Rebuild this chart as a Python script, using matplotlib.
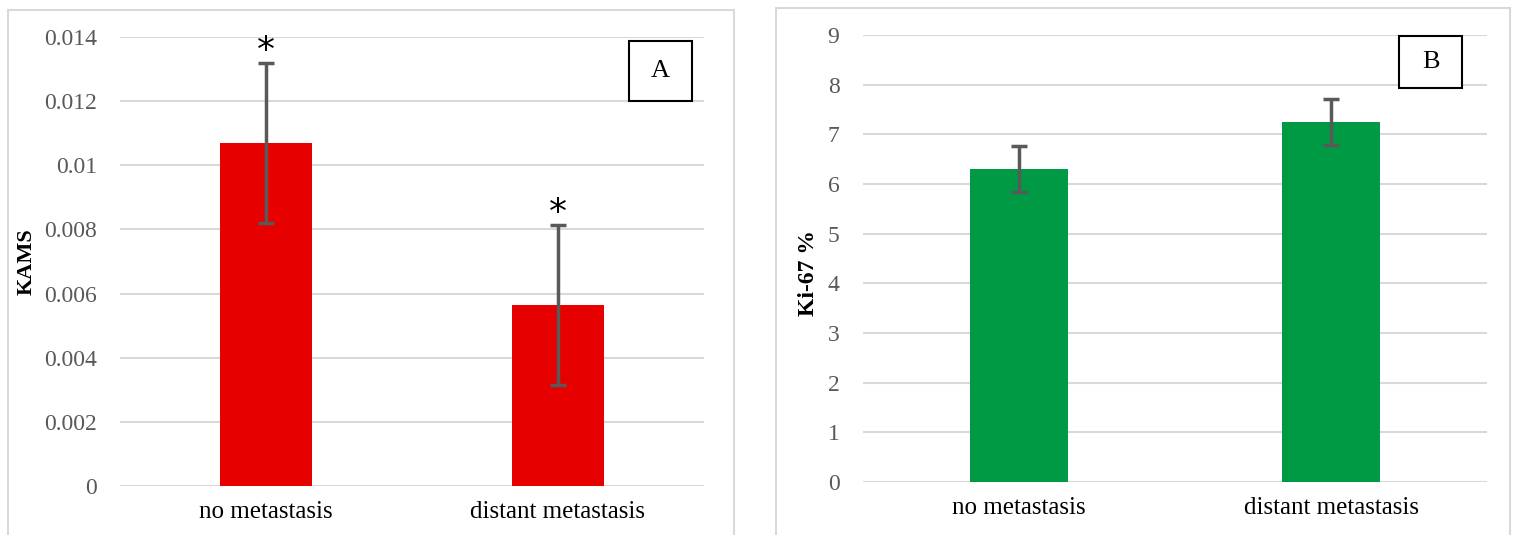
import matplotlib
matplotlib.use("Agg")
import matplotlib.pyplot as plt
from matplotlib.patches import Rectangle

# group means and error bar half-widths
groups = ["no metastasis", "distant metastasis"]
kams_mean = [0.0107, 0.00565]
kams_err = [0.0025, 0.0025]
ki67_mean = [6.3, 7.25]
ki67_err = [0.47, 0.47]

W, H = 1515, 535
fig = plt.figure(figsize=(W / 100, H / 100), dpi=100)

serif = "Liberation Serif"
grid_c = "#d9d9d9"
tick_c = "#595959"
err_c = "#595959"


def px_axes(x0, x1, y_top, y_bot):
    # axes placed by pixel edges (y measured from the top)
    return fig.add_axes([x0 / W, (H - y_bot) / H, (x1 - x0) / W, (y_bot - y_top) / H])


def frame(x0, y0, x1, y1):
    fig.add_artist(Rectangle((x0 / W, (H - y1) / H), (x1 - x0) / W, (y1 - y0) / H,
                             transform=fig.transFigure, fill=False, ec=grid_c, lw=1.5))


def style(ax, ymax, step, fmt):
    ax.set_xlim(-0.5, 1.5)
    ax.set_ylim(0, ymax)
    ticks = [i * step for i in range(int(round(ymax / step)) + 1)]
    ax.set_yticks(ticks)
    ax.set_yticklabels([fmt(t) for t in ticks], fontsize=17, color=tick_c, family=serif)
    ax.set_xticks(range(len(groups)))
    ax.set_xticklabels(groups, fontsize=18, color="black", family=serif)
    ax.tick_params(axis="both", length=0)
    ax.tick_params(axis="y", pad=16.5)
    ax.tick_params(axis="x", pad=11)
    for s in ax.spines.values():
        s.set_visible(False)
    ax.grid(axis="y", color=grid_c, lw=1.5)
    ax.set_axisbelow(True)
    ax.patch.set_alpha(0)


def label_box(letter, x0, y0, x1, y1):
    fig.add_artist(Rectangle((x0 / W, (H - y1) / H), (x1 - x0) / W, (y1 - y0) / H,
                             transform=fig.transFigure, fill=True, fc="white", ec="black", lw=1.5))
    fig.text((x0 + x1) / 2 / W, (H - (y0 + y1) / 2) / H, letter, ha="center", va="center",
             fontsize=19, family=serif)


# panel A: KAMS
frame(8, 10, 734, 545)
axA = px_axes(120, 704, 37, 486)
axA.bar(range(len(groups)), kams_mean, width=0.315, color="#e60000",
        yerr=kams_err, ecolor=err_c, error_kw=dict(elinewidth=2.5, capsize=5.5, capthick=2.5))
style(axA, 0.014, 0.002, lambda t: "0" if t == 0 else f"{t:g}")
for i, (m, e) in enumerate(zip(kams_mean, kams_err)):
    axA.annotate("*", (i, m + e), xytext=(0, -4), textcoords="offset points",
                 ha="center", va="bottom", fontsize=26, family="DejaVu Sans")
fig.text(27 / W, (H - 262) / H, "KAMS", rotation=90, ha="center", va="center",
         fontsize=16, fontweight="bold", family=serif)
label_box("A", 629, 41, 692, 101)

# panel B: Ki-67
frame(776, 8, 1510, 545)
axB = px_axes(863, 1487, 35, 482)
axB.bar(range(len(groups)), ki67_mean, width=0.314, color="#009a44",
        yerr=ki67_err, ecolor=err_c, error_kw=dict(elinewidth=2.5, capsize=5.5, capthick=2.5))
style(axB, 9, 1, lambda t: f"{t:g}")
axB.tick_params(axis="y", pad=17)
fig.text(809 / W, (H - 273) / H, "Ki-67 %", rotation=90, ha="center", va="center",
         fontsize=17, fontweight="bold", family=serif)
label_box("B", 1399, 36, 1462, 88)

fig.savefig("out.png", dpi=100)
